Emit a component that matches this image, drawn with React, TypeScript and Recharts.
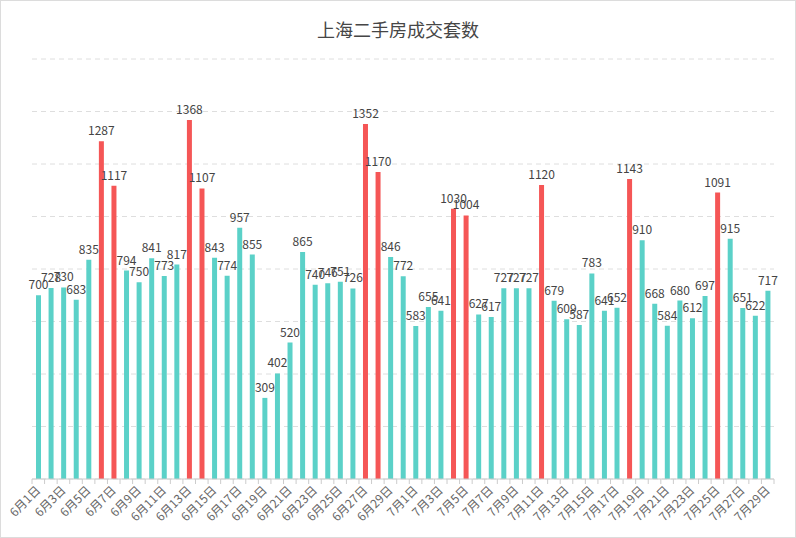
import React from 'react'
import { BarChart, Bar, XAxis, YAxis, CartesianGrid, LabelList, Cell } from 'recharts'

const dates: string[] = [
  '6月1日', '6月2日', '6月3日', '6月4日', '6月5日', '6月6日', '6月7日', '6月8日', '6月9日', '6月10日',
  '6月11日', '6月12日', '6月13日', '6月14日', '6月15日', '6月16日', '6月17日', '6月18日', '6月19日', '6月20日',
  '6月21日', '6月22日', '6月23日', '6月24日', '6月25日', '6月26日', '6月27日', '6月28日', '6月29日', '6月30日',
  '7月1日', '7月2日', '7月3日', '7月4日', '7月5日', '7月6日', '7月7日', '7月8日', '7月9日', '7月10日',
  '7月11日', '7月12日', '7月13日', '7月14日', '7月15日', '7月16日', '7月17日', '7月18日', '7月19日', '7月20日',
  '7月21日', '7月22日', '7月23日', '7月24日', '7月25日', '7月26日', '7月27日', '7月28日', '7月29日',
]

const deals: number[] = [
  700, 728, 730, 683, 835, 1287, 1117, 794, 750, 841,
  773, 817, 1368, 1107, 843, 774, 957, 855, 309, 402,
  520, 865, 740, 746, 751, 726, 1352, 1170, 846, 772,
  583, 655, 641, 1030, 1004, 627, 617, 727, 727, 727,
  1120, 679, 609, 587, 783, 641, 652, 1143, 910, 668,
  584, 680, 612, 697, 1091, 915, 651, 622, 717,
]

// days drawn in red
const highlighted: string[] = [
  '6月6日', '6月7日', '6月13日', '6月14日', '6月27日', '6月28日',
  '7月4日', '7月5日', '7月11日', '7月18日', '7月25日',
]

const yTicks = [0, 200, 400, 600, 800, 1000, 1200, 1400, 1600]

const TEAL = '#5bd1c8'
const RED = '#f55656'

const data = dates.map((d, i) => ({ date: d, value: deals[i] }))

const W = 796
const H = 538
const LEFT = 32
const RIGHT = 22
const band = (W - LEFT - RIGHT) / dates.length

function DateTick(props: any) {
  const { x, y, payload, index } = props
  const i = index ?? payload.index
  const showLabel = i % 2 === 0
  return (
    <g>
      <line x1={x - band / 2} y1={y - 8} x2={x - band / 2} y2={y - 3} stroke="#ccc" />
      {i === dates.length - 1 && (
        <line x1={x + band / 2} y1={y - 8} x2={x + band / 2} y2={y - 3} stroke="#ccc" />
      )}
      {showLabel && (
        <text
          x={x + 3}
          y={y + 4}
          transform={`rotate(-45, ${x + 3}, ${y + 4})`}
          textAnchor="end"
          fontSize={12}
          fill="#666"
        >
          {payload.value}
        </text>
      )}
    </g>
  )
}

export default function App() {
  return (
    <div
      style={{
        position: 'absolute',
        left: 0,
        top: 0,
        width: W,
        height: H,
        boxSizing: 'border-box',
        border: '1px solid #dcdcdc',
        background: '#fff',
        fontFamily: '"Noto Sans CJK SC", "Noto Sans", sans-serif',
      }}
    >
      <div
        style={{
          position: 'absolute',
          top: 15,
          left: 0,
          width: '100%',
          textAlign: 'center',
          fontSize: 18,
          color: '#464646',
        }}
      >
        上海二手房成交套数
      </div>
      <div style={{ position: 'absolute', left: -1, top: -1 }}>
        <BarChart
          width={W}
          height={H}
          data={data}
          margin={{ top: 59, right: RIGHT, left: LEFT, bottom: 0 }}
          barSize={5}
        >
          <CartesianGrid vertical={false} strokeDasharray="5 4" stroke="#dedede" />
          <XAxis
            dataKey="date"
            interval={0}
            height={59}
            axisLine={{ stroke: '#ccc' }}
            tickLine={false}
            tick={<DateTick />}
          />
          <YAxis hide domain={[0, 1600]} ticks={yTicks} />
          <Bar dataKey="value" isAnimationActive={false}>
            {data.map((d) => (
              <Cell key={d.date} fill={highlighted.includes(d.date) ? RED : TEAL} />
            ))}
            <LabelList dataKey="value" position="top" offset={6} fontSize={12} fill="#444" />
          </Bar>
        </BarChart>
      </div>
    </div>
  )
}
